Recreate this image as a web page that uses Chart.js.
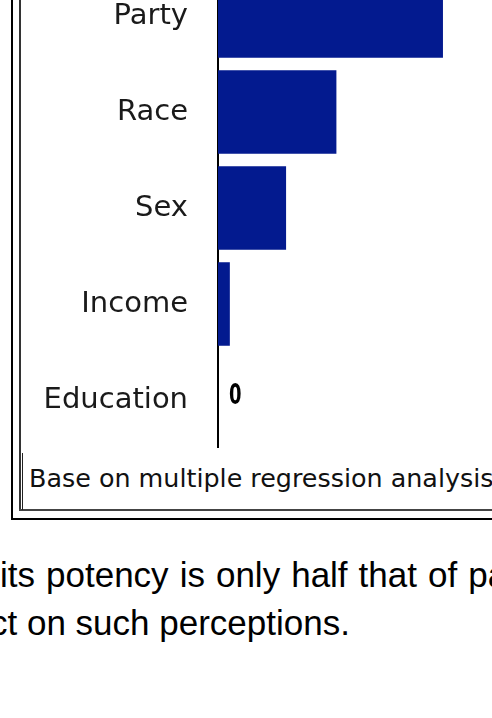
<!DOCTYPE html>
<html>
<head>
<meta charset="utf-8">
<script src="https://cdn.jsdelivr.net/npm/chart.js@4/dist/chart.umd.min.js"></script>
<style>
  html, body { margin: 0; padding: 0; background: #fff; }
  body { width: 492px; height: 718px; overflow: hidden; position: relative; }
  .ln { position: absolute; }
  #wrap { position: absolute; left: 22px; top: -32px; width: 492px; height: 480px; }
  .foot { position: absolute; left: 29px; top: 463px; font-family: "DejaVu Sans"; font-size: 25.4px; line-height: 30px; color: #111; white-space: nowrap; }
  .para { position: absolute; font-family: "Liberation Sans", Arial, sans-serif; font-size: 35px; line-height: 48px; color: #000; white-space: nowrap; }
</style>
</head>
<body>
<div class="ln" style="left:11px;top:-5px;width:2px;height:525px;background:#000"></div>
<div class="ln" style="left:11px;top:518px;width:600px;height:2px;background:#000"></div>
<div class="ln" style="left:19px;top:-5px;width:2px;height:516px;background:#333"></div>
<div class="ln" style="left:19px;top:509px;width:600px;height:2px;background:#444"></div>
<div class="ln" style="left:22px;top:453px;width:1px;height:57px;background:#222"></div>
<div id="wrap"><canvas id="c" width="492" height="480"></canvas></div>
<div class="foot">Base on multiple regression analysis</div>
<div class="para" style="left:0px;top:551px;word-spacing:1.3px">its potency is only half that of pa</div>
<div class="para" style="left:-10px;top:599px">ct on such perceptions.</div>
<script>
const categories = ["Party", "Race", "Sex", "Income", "Education"];
const values = [0.38, 0.20, 0.115, 0.02, 0];

const zeroLabel = {
  id: 'zeroLabel',
  afterDatasetsDraw(chart) {
    const ctx = chart.ctx;
    const meta = chart.getDatasetMeta(0);
    meta.data.forEach((el, i) => {
      if (values[i] === 0) {
        ctx.save();
        ctx.translate(el.x + 11, el.y - 4);
        ctx.scale(0.62, 1);
        ctx.fillStyle = '#000';
        ctx.font = 'bold 29px "DejaVu Sans"';
        ctx.textAlign = 'left';
        ctx.textBaseline = 'middle';
        ctx.fillText(String(values[i]), 0, 0);
        ctx.restore();
      }
    });
  }
};

new Chart(document.getElementById('c'), {
  type: 'bar',
  data: {
    labels: categories,
    datasets: [{
      data: values,
      backgroundColor: '#031a8f',
      borderWidth: 0,
      categoryPercentage: 1,
      barPercentage: 0.87
    }]
  },
  options: {
    indexAxis: 'y',
    responsive: false,
    animation: false,
    layout: { padding: 0 },
    plugins: { legend: { display: false }, tooltip: { enabled: false } },
    scales: {
      x: { display: false, min: 0, max: 0.5 },
      y: {
        grid: { display: false, drawTicks: false },
        border: { display: true, color: '#000', width: 2 },
        ticks: { padding: 30, color: '#1a1a1a', font: { family: 'DejaVu Sans', size: 29 } },
        afterFit(scale) {
          scale.width = 196;
          scale.paddingTop = 0;
          scale.paddingBottom = 0;
        }
      }
    }
  },
  plugins: [zeroLabel]
});
</script>
</body>
</html>
